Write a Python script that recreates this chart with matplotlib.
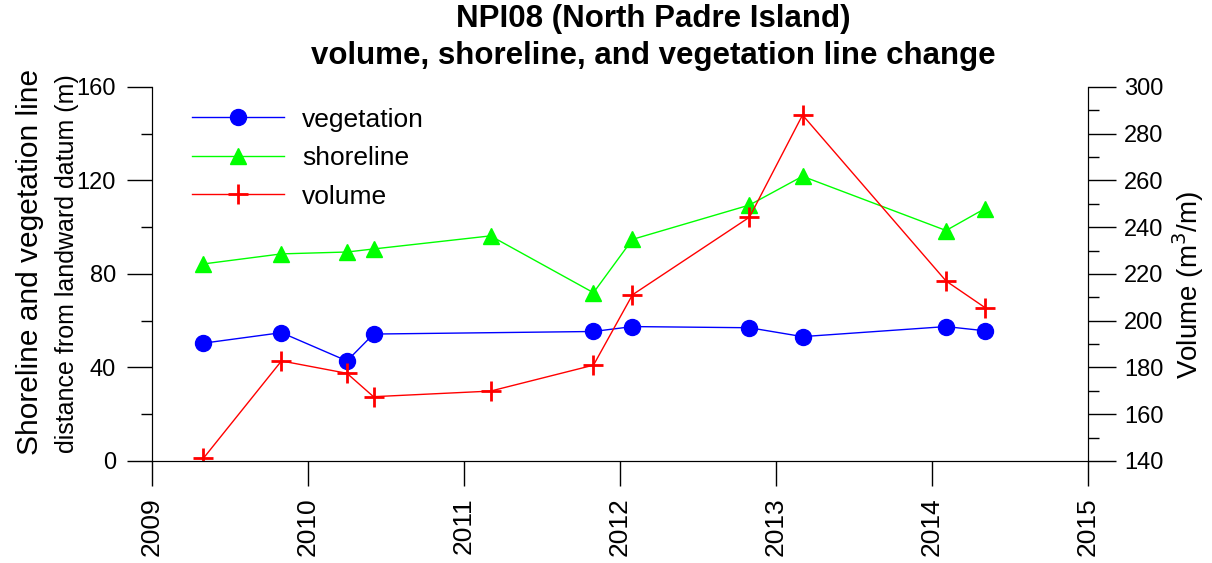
import matplotlib
matplotlib.use('Agg')
import matplotlib.pyplot as plt
from matplotlib.ticker import MultipleLocator

plt.rcParams['font.family'] = ['Liberation Sans', 'DejaVu Sans']

# survey dates (decimal years) and values
veg_t = [2009.33, 2009.83, 2010.25, 2010.42, 2011.83, 2012.08, 2012.83, 2013.17, 2014.09, 2014.34]
veg = [50.4, 54.9, 42.8, 54.3, 55.4, 57.5, 57.0, 53.2, 57.5, 55.7]

shore_t = [2009.33, 2009.83, 2010.25, 2010.42, 2011.17, 2011.83, 2012.08, 2012.83, 2013.17, 2014.09, 2014.34]
shore = [84.3, 88.6, 89.4, 90.7, 96.3, 72.0, 94.8, 109.5, 121.8, 98.6, 108.0]

vol_t = [2009.33, 2009.83, 2010.25, 2010.42, 2011.17, 2011.83, 2012.08, 2012.83, 2013.17, 2014.09, 2014.34]
vol = [141.2, 182.8, 177.5, 167.5, 169.9, 181.0, 211.1, 244.3, 288.0, 217.0, 205.6]

years = list(range(2009, 2016))

fig = plt.figure(figsize=(12.12, 5.63), dpi=100)
ax = fig.add_axes([0.1254, 0.1812, 0.7723, 0.6643])
ax2 = ax.twinx()

l1, = ax.plot(veg_t, veg, color='#0000ff', lw=1, marker='o', ms=11.5, label='vegetation')
l2, = ax.plot(shore_t, shore, color='#00ff00', lw=1, marker='^', ms=11.5, label='shoreline')
l3, = ax2.plot(vol_t, vol, color='#ff0000', lw=1, marker='+', ms=14, mew=2, label='volume')

ax.set_xlim(2009, 2015)
ax.set_ylim(0, 160)
ax2.set_ylim(140, 300)

ax.set_xticks(years)
ax.set_xticklabels([str(y) for y in years], rotation=90)
ax.yaxis.set_major_locator(MultipleLocator(40))
ax.yaxis.set_minor_locator(MultipleLocator(20))
ax2.yaxis.set_major_locator(MultipleLocator(20))
ax2.yaxis.set_minor_locator(MultipleLocator(10))

ax.tick_params(axis='x', which='major', length=18, width=1, labelsize=19, pad=8)
ax.tick_params(axis='y', which='major', length=18, width=1, labelsize=17, pad=8)
ax.tick_params(axis='y', which='minor', length=8, width=1)
ax2.tick_params(axis='y', which='major', length=20, width=1, labelsize=17, pad=6)
ax2.tick_params(axis='y', which='minor', length=8, width=1)

for a in (ax, ax2):
    a.spines['top'].set_visible(False)

fig.text(0.025, 0.534, 'Shoreline and vegetation line', rotation=90, fontsize=21.5,
         ha='center', va='center')
fig.text(0.055, 0.531, 'distance from landward datum (m)', rotation=90, fontsize=18,
         ha='center', va='center')
fig.text(0.980, 0.494, 'Volume (m$^3$/m)', rotation=90, fontsize=20,
         ha='center', va='center')

fig.suptitle('NPI08 (North Padre Island)\nvolume, shoreline, and vegetation line change',
             fontsize=22.5, fontweight='bold', y=0.993, x=0.539, linespacing=1.3)

ax.legend(handles=[l1, l2, l3], loc='upper left', frameon=False, fontsize=19,
          handlelength=3.5, handletextpad=0.7, labelspacing=0.55,
          borderaxespad=0, bbox_to_anchor=(0.031, 0.973))

fig.savefig('out.png', dpi=100)
